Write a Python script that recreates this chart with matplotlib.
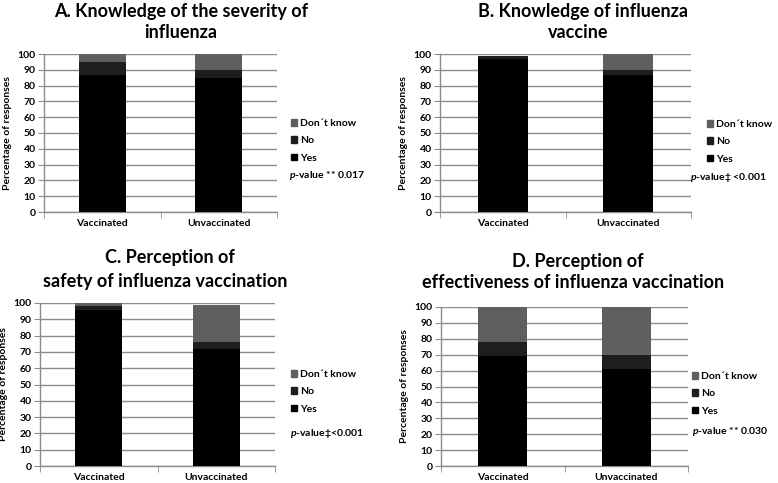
import matplotlib
matplotlib.use("Agg")
import matplotlib.pyplot as plt
from matplotlib.patches import Patch

plt.rcParams['font.family'] = ['Lato', 'DejaVu Sans']
plt.rcParams['font.weight'] = 'bold'
plt.rcParams['mathtext.fontset'] = 'custom'
plt.rcParams['mathtext.it'] = 'Lato:italic:bold'
plt.rcParams['mathtext.rm'] = 'Lato:bold'

groups = ["Vaccinated", "Unvaccinated"]
series_names = ["Yes", "No", "Don´t know"]
colors = ["#000000", "#1e1e1e", "#5f5f5f"]

# Panel values (Yes, No, Don't know) per group
A_yes = [87, 85]
A_no = [8, 5]
A_dk = [5, 10]

B_yes = [97, 87]
B_no = [1.5, 3]
B_dk = [0.5, 10]

C_yes = [96, 72]
C_no = [2, 4]
C_dk = [2, 23]

D_yes = [69, 61]
D_no = [9, 9]
D_dk = [22, 30]

titles = ["A. Knowledge of the severity of\ninfluenza",
          "B. Knowledge of influenza\nvaccine",
          "C. Perception of\nsafety of influenza vaccination",
          "D. Perception of\neffectiveness of influenza vaccination"]
pvals = [r"$p$-value ** 0.017", r"$p$-value‡ <0.001", r"$p$-value‡<0.001", r"$p$-value ** 0.030"]

W, H = 778, 483
fig = plt.figure(figsize=(W / 100, H / 100), dpi=100)

def fx(px):
    return px / W

def fy(py):
    return 1 - py / H

panels = [
    dict(data=(A_yes, A_no, A_dk), box=(44, 54, 277, 212), title_xy=(181, 11, 181, 32),
         leg=(291, 119), p=(289, 176)),
    dict(data=(B_yes, B_no, B_dk), box=(440, 54, 691, 212), title_xy=(583, 11, 578, 32),
         leg=(707, 120), p=(690, 177)),
    dict(data=(C_yes, C_no, C_dk), box=(40, 303, 275, 466), title_xy=(170, 258, 165, 282),
         leg=(291, 370), p=(290, 433)),
    dict(data=(D_yes, D_no, D_dk), box=(441, 307, 688, 466), title_xy=(578, 262, 573, 283),
         leg=(692, 372), p=(692, 432)),
]

grid_c = "#8c8c8c"
for i, p in enumerate(panels):
    x0, y0, x1, y1 = p["box"]
    ax = fig.add_axes([fx(x0), fy(y1), fx(x1 - x0), (y1 - y0) / H])
    yes, no, dk = p["data"]
    xs = range(len(groups))
    bottoms = [0] * len(groups)
    handles = []
    for vals, c, name in zip((yes, no, dk), colors, series_names):
        ax.bar(xs, vals, width=0.4, bottom=bottoms, color=c, zorder=3, label=name)
        bottoms = [b + v for b, v in zip(bottoms, vals)]
        handles.append(Patch(color=c, label=name))
    ax.set_xlim(-0.5, 1.5)
    ax.set_ylim(0, 100)
    ax.set_yticks(range(0, 101, 10))
    ax.yaxis.grid(True, color=grid_c, linewidth=1.0, zorder=0)
    ax.set_axisbelow(True)
    for s in ("top", "right"):
        ax.spines[s].set_visible(False)
    for s in ("left", "bottom"):
        ax.spines[s].set_color(grid_c)
        ax.spines[s].set_linewidth(1.0)
    ax.set_xticks(list(xs))
    ax.set_xticklabels(groups, fontsize=7.5, fontweight='bold')
    ax.set_xticks([-0.5, 0.5, 1.5], minor=True)
    ax.tick_params(axis='x', which='major', length=0, pad=5)
    ax.tick_params(axis='x', which='minor', length=4, color=grid_c, direction='out')
    ax.tick_params(axis='y', length=4, color=grid_c, labelsize=7.5, pad=2)
    for lab in ax.get_yticklabels():
        lab.set_fontweight('bold')
    ax.set_ylabel("Percentage of responses", fontsize=7.5, fontweight='bold', labelpad=4)

    tx1, ty1, tx2, ty2 = p["title_xy"]
    line1, line2 = titles[i].split("\n")
    fig.text(fx(tx1), fy(ty1), line1, ha='center', va='center', fontsize=13, fontweight='bold')
    fig.text(fx(tx2), fy(ty2), line2, ha='center', va='center', fontsize=13, fontweight='bold')

    lx, ly = p["leg"]
    fig.legend(handles=handles[::-1], loc='upper left', bbox_to_anchor=(fx(lx), fy(ly)),
               frameon=False, handlelength=0.6, handleheight=0.6,
               handletextpad=0.3, labelspacing=0.8, borderaxespad=0, borderpad=0,
               prop={'weight': 'bold', 'size': 7.5})
    px, py = p["p"]
    fig.text(fx(px), fy(py), pvals[i], ha='left', va='center', fontsize=7.5, fontweight='bold')

fig.savefig("out.png", dpi=100)
